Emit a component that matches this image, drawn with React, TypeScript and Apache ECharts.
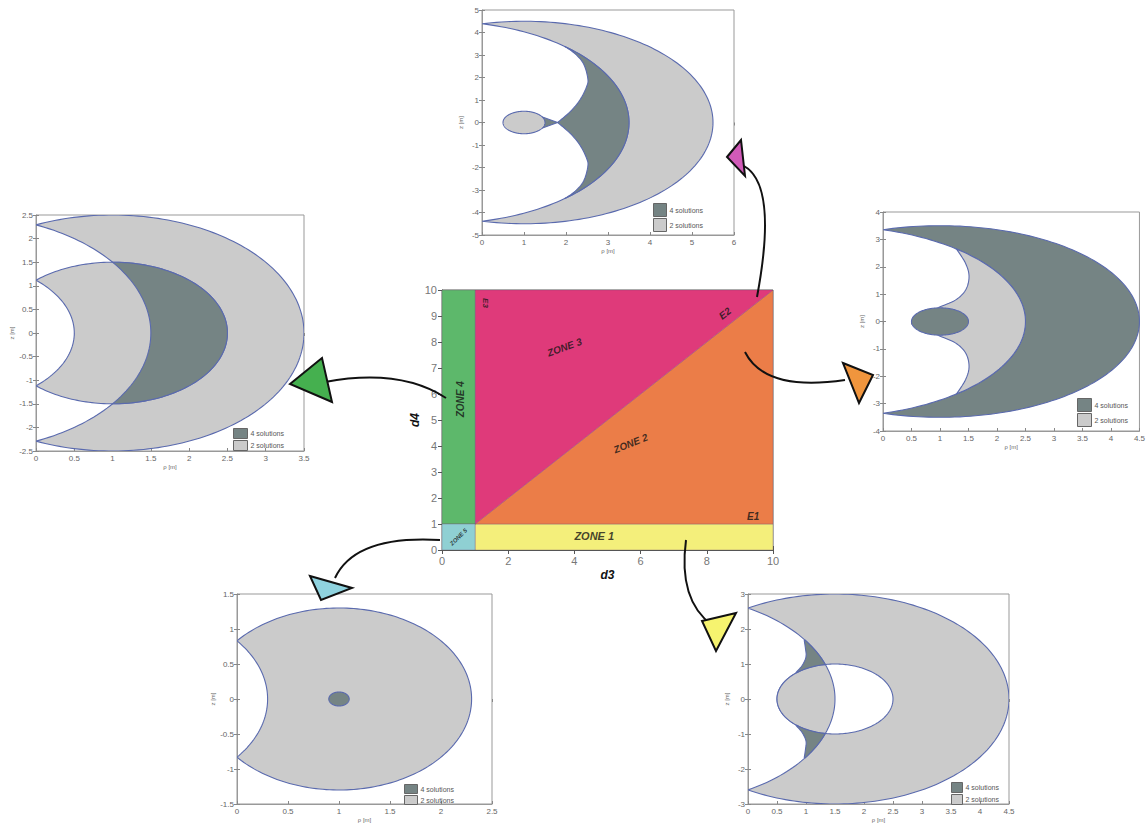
import React, { useEffect, useRef } from "react";
import * as echarts from "echarts";

// ---------------- central map (d3, d4) ----------------
const d3Range = [0, 10, 2];
const d4Range = [0, 10, 1];
const zone1 = [[1, 0], [10, 0], [10, 1], [1, 1]];
const zone2 = [[1, 1], [10, 10], [10, 1]];
const zone3 = [[1, 1], [1, 10], [10, 10]];
const zone4 = [[0, 1], [1, 1], [1, 10], [0, 10]];
const zone5 = [[0, 0], [1, 0], [1, 1], [0, 1]];
const zoneLabels = [
  { name: "ZONE 1", value: [4.6, 0.52] },
  { name: "ZONE 2", value: [5.7, 4.1] },
  { name: "ZONE 3", value: [3.7, 7.8] },
  { name: "ZONE 4", value: [0.55, 5.8] },
  { name: "ZONE 5", value: [0.5, 0.5] },
  { name: "E1", value: [9.4, 1.27] },
  { name: "E2", value: [8.55, 9.1] },
  { name: "E3", value: [1.3, 9.5] },
];

// ---------------- workspace sections (rho, z) ----------------
// circles: [centre rho, centre z, radius]
const topOut = [1, 0, 4.5];
const topIn = [-1, 0, 4.5];
const topHole = [1, 0, 0.5];
const topCusp = [[1.8, 0], [2.1, 0.48], [2.33, 1.0], [2.49, 1.59], [2.52, 1.95], [2.42, 2.6], [2.22, 3.05], [1.98, 3.37]];
const topLens = [[1.44, -0.24], [1.62, -0.12], [1.8, 0], [1.62, 0.12], [1.44, 0.24]];

const leftBigOut = [1, 0, 2.5];
const leftBigIn = [-1, 0, 2.5];
const leftSmallOut = [1, 0, 1.5];
const leftSmallIn = [-1, 0, 1.5];

const rightOut = [1, 0, 3.5];
const rightIn = [-1, 0, 3.5];
const rightHole = [1, 0, 0.5];
const rightCusp = [[0.98, 0.52], [1.27, 0.78], [1.45, 1.15], [1.51, 1.64], [1.45, 2.12], [1.29, 2.65]];

const blOut = [1, 0, 1.3];
const blIn = [-1, 0, 1.3];
const blHole = [1, 0, 0.1];

const brOut = [1.5, 0, 3];
const brIn = [-1.5, 0, 3];
const brRing = [1.5, 0, 1];
const brCusp = [[0.83, 0.76], [0.93, 0.95], [1.0, 1.2], [0.99, 1.45], [0.97, 1.67]];

const subAxes = [
  { x: [0, 6, 1], y: [-5, 5, 1] },
  { x: [0, 3.5, 0.5], y: [-2.5, 2.5, 0.5] },
  { x: [0, 4.5, 0.5], y: [-4, 4, 1] },
  { x: [0, 2.5, 0.5], y: [-1.5, 1.5, 0.5] },
  { x: [0, 4.5, 0.5], y: [-3, 3, 1] },
];
const legendNames = ["4 solutions", "2 solutions"];

// ---------------- layout & style ----------------
const GRIDS = [
  { left: 442, top: 290, width: 331, height: 260 },
  { left: 482, top: 10, width: 252, height: 225 },
  { left: 36, top: 215, width: 268, height: 236 },
  { left: 883, top: 212, width: 262, height: 219 },
  { left: 237, top: 594, width: 255, height: 212 },
  { left: 748, top: 594, width: 261, height: 212 },
];
const LEGENDS = [
  { left: 653, top: 203, w: 13, h: 13 },
  { left: 233, top: 428, w: 14, h: 10 },
  { left: 1077, top: 398, w: 14, h: 13 },
  { left: 404, top: 784, w: 13, h: 9 },
  { left: 951, top: 782, w: 11, h: 10 },
];
const LIGHT = "#cbcbcb";
const DARK = "#758484";
const EDGE = "#5a6aae";
const FONT = "'Liberation Sans', Arial, sans-serif";

// ---------------- geometry helpers ----------------
const DEG = Math.PI / 180;
type Seg = { arc?: number[]; curve?: number[][]; line?: number[][] };
const axisAngle = (c: number[]) => Math.acos(-c[0] / c[2]) / DEG;
const angOf = (c: number[], p: number[]) => Math.atan2(p[1] - c[1], p[0] - c[0]) / DEG;
const meet = (a: number[], b: number[]) => {
  const x = (a[2] * a[2] - b[2] * b[2] + b[0] * b[0] - a[0] * a[0]) / (2 * (b[0] - a[0]));
  return [x, Math.sqrt(a[2] * a[2] - (x - a[0]) * (x - a[0]))];
};
const flip = (pts: number[][]) => pts.map(([x, z]) => [x, -z]).reverse();

function sample(segs: Seg[]): number[][] {
  const out: number[][] = [];
  for (const s of segs) {
    if (s.arc) {
      const [cx, cz, r, a0, a1] = s.arc;
      const n = Math.max(10, Math.ceil(Math.abs(a1 - a0) / 1.5));
      for (let i = 0; i <= n; i++) {
        const a = (a0 + ((a1 - a0) * i) / n) * DEG;
        out.push([cx + r * Math.cos(a), cz + r * Math.sin(a)]);
      }
    } else if (s.curve) {
      const p = s.curve;
      for (let i = 0; i < p.length - 1; i++) {
        const p0 = p[Math.max(0, i - 1)], p1 = p[i], p2 = p[i + 1], p3 = p[Math.min(p.length - 1, i + 2)];
        for (let k = 0; k < 8; k++) {
          const t = k / 8, t2 = t * t, t3 = t2 * t;
          const f = (j: number) =>
            0.5 * (2 * p1[j] + (-p0[j] + p2[j]) * t + (2 * p0[j] - 5 * p1[j] + 4 * p2[j] - p3[j]) * t2 + (-p0[j] + 3 * p1[j] - 3 * p2[j] + p3[j]) * t3);
          out.push([f(0), f(1)]);
        }
      }
      out.push(p[p.length - 1]);
    } else if (s.line) {
      out.push(...s.line);
    }
  }
  return out;
}
const circle = (c: number[]): Seg[] => [{ arc: [c[0], c[1], c[2], 0, 360] }];
const crescent = (o: number[], i: number[]): Seg[] => [
  { arc: [...o, axisAngle(o), -axisAngle(o)] },
  { arc: [...i, -axisAngle(i), axisAngle(i)] },
];

type Region = { grid: number; pts: number[][]; fill: string; name?: string; stroke?: string; lw?: number };
function buildRegions(): Region[] {
  const R: Region[] = [];
  // top section
  const tP = topCusp[topCusp.length - 1];
  R.push({ grid: 1, pts: sample(crescent(topOut, topIn)), fill: LIGHT, name: legendNames[1] });
  R.push({
    grid: 1,
    pts: sample([{ arc: [...topIn, angOf(topIn, tP), -angOf(topIn, tP)] }, { curve: flip(topCusp) }, { curve: topCusp }]),
    fill: DARK,
    name: legendNames[0],
  });
  R.push({ grid: 1, pts: sample([{ line: topLens }]), fill: DARK, name: legendNames[0] });
  R.push({ grid: 1, pts: sample(circle(topHole)), fill: LIGHT, name: legendNames[1] });
  // left section
  R.push({ grid: 2, pts: sample(crescent(leftBigOut, leftBigIn)), fill: LIGHT, name: legendNames[1] });
  R.push({ grid: 2, pts: sample(crescent(leftSmallOut, leftSmallIn)), fill: LIGHT, name: legendNames[1] });
  const lI = meet(leftSmallOut, leftBigIn);
  R.push({
    grid: 2,
    pts: sample([
      { arc: [...leftSmallOut, angOf(leftSmallOut, lI), -angOf(leftSmallOut, lI)] },
      { arc: [...leftBigIn, -angOf(leftBigIn, lI), angOf(leftBigIn, lI)] },
    ]),
    fill: DARK,
    name: legendNames[0],
  });
  // right section
  const rP = rightCusp[rightCusp.length - 1];
  R.push({ grid: 3, pts: sample(crescent(rightOut, rightIn)), fill: DARK, name: legendNames[0] });
  R.push({
    grid: 3,
    pts: sample([{ arc: [...rightIn, angOf(rightIn, rP), -angOf(rightIn, rP)] }, { curve: flip(rightCusp) }, { curve: rightCusp }]),
    fill: LIGHT,
    name: legendNames[1],
  });
  R.push({ grid: 3, pts: sample(circle(rightHole)), fill: DARK, name: legendNames[0] });
  // bottom-left section
  R.push({ grid: 4, pts: sample(crescent(blOut, blIn)), fill: LIGHT, name: legendNames[1] });
  R.push({ grid: 4, pts: sample(circle(blHole)), fill: DARK, name: legendNames[0] });
  // bottom-right section
  R.push({ grid: 5, pts: sample(crescent(brOut, brIn)), fill: LIGHT, name: legendNames[1] });
  R.push({ grid: 5, pts: sample(circle(brRing)), fill: "#ffffff" });
  const bI = meet(brRing, brIn);
  R.push({
    grid: 5,
    pts: sample([
      { arc: [...brRing, angOf(brRing, bI), 360 - angOf(brRing, bI)] },
      { arc: [...brIn, -angOf(brIn, bI), angOf(brIn, bI)] },
    ]),
    fill: LIGHT,
    name: legendNames[1],
  });
  const bQ = brCusp[brCusp.length - 1];
  const darkTop = sample([
    { arc: [...brIn, angOf(brIn, bQ), angOf(brIn, bI)] },
    { arc: [...brRing, angOf(brRing, bI), angOf(brRing, brCusp[0])] },
    { curve: brCusp },
  ]);
  R.push({ grid: 5, pts: darkTop, fill: DARK, name: legendNames[0] });
  R.push({ grid: 5, pts: darkTop.map(([x, z]) => [x, -z]), fill: DARK, name: legendNames[0] });
  // central map zones
  const zoneFill = ["#f4ef7b", "#eb7d48", "#df3a7a", "#5db86b", "#8fd0d3"];
  [zone1, zone2, zone3, zone4, zone5].forEach((z, i) =>
    R.push({ grid: 0, pts: z, fill: zoneFill[i], stroke: "rgba(110,70,120,0.55)", lw: 0.6 })
  );
  return R;
}

function regionSeries(r: Region) {
  return {
    type: "custom",
    name: r.name,
    xAxisIndex: r.grid,
    yAxisIndex: r.grid,
    clip: true,
    silent: true,
    itemStyle: { color: r.fill },
    data: [[0, 0]],
    renderItem: (_p: any, api: any) => ({
      type: "polygon",
      shape: { points: r.pts.map((p) => api.coord(p)) },
      style: { fill: r.fill, stroke: r.stroke || EDGE, lineWidth: r.lw ?? 1.1 },
    }),
  };
}

// ---------------- arrows (annotation) ----------------
const ARROWS = [
  { c: [757, 297, 778, 185, 744, 166], head: [[727, 157], [741, 140], [745, 176]], fill: "#d15ab8" },
  { c: [446, 398, 400, 368, 325, 382], head: [[290, 384], [322, 358], [332, 402]], fill: "#45b04f" },
  { c: [745, 352, 765, 392, 845, 380], head: [[843, 363], [873, 375], [859, 403]], fill: "#f0953d" },
  { c: [440, 540, 355, 535, 335, 578], head: [[310, 576], [352, 588], [321, 600]], fill: "#8fd3df" },
  { c: [686, 540, 678, 600, 712, 625], head: [[702, 621], [736, 613], [716, 651]], fill: "#f6f36f" },
];

function makeOption() {
  const xAxis: any[] = [];
  const yAxis: any[] = [];
  const mainName = { fontWeight: "bold", fontStyle: "italic", fontSize: 12, color: "#111", fontFamily: FONT };
  xAxis.push({
    type: "value", gridIndex: 0, min: d3Range[0], max: d3Range[1], interval: d3Range[2],
    name: "d3", nameLocation: "middle", nameGap: 19, nameTextStyle: mainName,
    axisLine: { onZero: false, lineStyle: { color: "#555" } },
    axisTick: { inside: true, length: 4, lineStyle: { color: "#555" } },
    axisLabel: { color: "#777", fontSize: 11, margin: 5, fontFamily: FONT },
    splitLine: { show: false },
  });
  yAxis.push({
    type: "value", gridIndex: 0, min: d4Range[0], max: d4Range[1], interval: d4Range[2],
    name: "d4", nameLocation: "middle", nameGap: 17, nameRotate: 90, nameTextStyle: mainName,
    axisLine: { onZero: false, lineStyle: { color: "#555" } },
    axisTick: { inside: true, length: 4, lineStyle: { color: "#555" } },
    axisLabel: { color: "#777", fontSize: 11, margin: 5, fontFamily: FONT },
    splitLine: { show: false },
  });
  subAxes.forEach((a, k) => {
    const g = k + 1;
    const common = {
      type: "value", gridIndex: g, nameLocation: "middle",
      nameTextStyle: { fontSize: 6, color: "#666", fontFamily: FONT },
      axisLine: { onZero: false, lineStyle: { color: "#999" } },
      axisTick: { inside: true, length: 3, lineStyle: { color: "#888" } },
      axisLabel: { color: "#666", fontSize: 8, margin: 3, fontFamily: FONT, formatter: (v: number) => String(+v.toFixed(2)) },
      splitLine: { show: false },
    };
    xAxis.push({ ...common, min: a.x[0], max: a.x[1], interval: a.x[2], name: "ρ [m]", nameGap: 13 });
    yAxis.push({ ...common, min: a.y[0], max: a.y[1], interval: a.y[2], name: "z [m]", nameGap: 18, nameRotate: 90 });
  });
  // mirrored tick-only axes on top / right of every box
  const ranges = [{ x: d3Range, y: d4Range }, ...subAxes];
  ranges.forEach((a, g) => {
    const mirror = {
      type: "value", gridIndex: g,
      axisLine: { show: false }, axisLabel: { show: false }, splitLine: { show: false },
      axisTick: { inside: true, length: g === 0 ? 4 : 3, lineStyle: { color: g === 0 ? "#555" : "#888" } },
    };
    xAxis.push({ ...mirror, position: "top", min: a.x[0], max: a.x[1], interval: a.x[2] });
    yAxis.push({ ...mirror, position: "right", min: a.y[0], max: a.y[1], interval: a.y[2] });
  });

  const series: any[] = buildRegions().map(regionSeries);
  const rot: Record<string, number> = { "ZONE 2": 22, "ZONE 3": 20, "ZONE 4": 90, "ZONE 5": 45, E2: 38, E3: -90 };
  const size: Record<string, number> = { "ZONE 1": 11, "ZONE 5": 6, E3: 8 };
  series.push({
    type: "scatter", xAxisIndex: 0, yAxisIndex: 0, symbolSize: 0, silent: true,
    data: zoneLabels.map((z) => ({
      ...z,
      label: { rotate: rot[z.name] || 0, fontSize: size[z.name] || 10 },
    })),
    label: {
      show: true, position: "inside", formatter: (p: any) => p.name,
      fontWeight: "bold", fontStyle: "italic", color: "#151515", fontFamily: FONT,
    },
  });

  const graphic: any[] = [];
  ARROWS.forEach((a) => {
    graphic.push({
      type: "bezierCurve", silent: true, z: 100,
      shape: { x1: a.c[0], y1: a.c[1], cpx1: a.c[2], cpy1: a.c[3], x2: a.c[4], y2: a.c[5] },
      style: { stroke: "#111", lineWidth: 2, fill: null },
    });
    graphic.push({
      type: "polygon", silent: true, z: 101,
      shape: { points: a.head },
      style: { fill: a.fill, stroke: "#111", lineWidth: 2 },
    });
  });

  const legend = LEGENDS.map((l) => ({
    left: l.left, top: l.top, orient: "vertical", padding: 0, itemGap: 1,
    itemWidth: l.w, itemHeight: l.h, selectedMode: false,
    textStyle: { fontSize: 7, color: "#555", fontFamily: FONT, padding: [0, 0, 0, -2] },
    data: [
      { name: legendNames[0], icon: "rect", itemStyle: { color: DARK, borderColor: "#666", borderWidth: 1 } },
      { name: legendNames[1], icon: "rect", itemStyle: { color: LIGHT, borderColor: "#666", borderWidth: 1 } },
    ],
  }));

  return {
    animation: false,
    backgroundColor: "#ffffff",
    grid: GRIDS.map((g, i) => ({ ...g, show: true, borderColor: i === 0 ? "#555" : "#999", borderWidth: 1, backgroundColor: "#fff", containLabel: false })),
    xAxis,
    yAxis,
    legend,
    series,
    graphic,
  };
}

export default function App() {
  const ref = useRef<HTMLDivElement>(null);
  useEffect(() => {
    if (!ref.current) return;
    const chart = echarts.init(ref.current, null, { renderer: "svg" });
    chart.setOption(makeOption() as any);
    return () => chart.dispose();
  }, []);
  return <div ref={ref} style={{ position: "fixed", left: 0, top: 0, width: 1148, height: 824, background: "#fff" }} />;
}
